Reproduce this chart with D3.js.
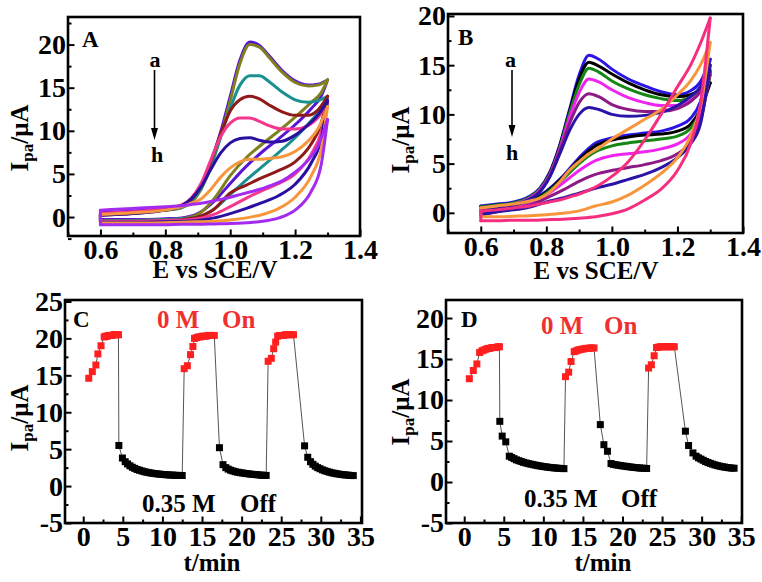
<!DOCTYPE html>
<html><head><meta charset="utf-8">
<script src="https://cdn.jsdelivr.net/npm/d3@7"></script>
<style>
body{margin:0;background:#fff}
svg{display:block}
text{font-family:"Liberation Serif","Times New Roman",serif;font-weight:bold}
</style>
</head><body>
<svg id="chart" width="762" height="582"></svg>
<script>
// ---------------- Panel A data (CV curves a..h) ----------------
const colorsA = ["#5A14D8","#80801E","#1A9090","#8E1A1A","#F5388E","#2A0FA0","#F7963C","#A52AF0"];
const potentialUpA = [0.6,0.7,0.8,0.85,0.88,0.91,0.94,0.97,1.0,1.03,1.06,1.09,1.12,1.16,1.2,1.24,1.27,1.3];
const currentUpA = [
  [0.5,0.7,1.0,1.3,2.0,3.6,6.3,9.8,14.0,18.2,20.3,19.9,18.7,17.0,15.8,15.3,15.4,15.9],
  [0.3,0.5,0.8,1.1,1.7,3.2,5.8,9.3,13.5,17.8,20.0,19.7,18.5,16.8,15.6,15.2,15.3,15.9],
  [0.3,0.5,0.8,1.1,1.8,3.3,5.9,9.2,12.6,15.3,16.4,16.4,15.7,14.5,13.6,13.3,13.5,14.0],
  [0.2,0.4,0.8,1.2,2.0,3.6,6.4,9.6,12.3,13.6,14.0,13.7,13.0,12.2,11.8,11.8,12.4,14.0],
  [0.4,0.6,1.0,1.4,2.2,3.9,6.6,9.3,10.9,11.5,11.5,11.1,10.6,10.2,10.2,10.6,11.5,13.3],
  [0.2,0.4,0.8,1.3,2.1,3.5,5.5,7.4,8.6,9.1,9.2,8.9,8.7,8.8,9.5,10.7,11.8,13.5],
  [0.3,0.5,0.8,1.2,1.6,2.1,3.2,4.6,5.7,6.4,6.7,6.7,6.8,7.0,7.6,8.8,10.2,12.8],
  [0.8,1.0,1.2,1.3,1.45,1.6,1.8,2.05,2.3,2.6,2.9,3.2,3.6,4.2,5.2,6.6,8.2,11.3]
];
const potentialLoA = [0.6,0.7,0.8,0.85,0.9,0.95,1.0,1.05,1.1,1.15,1.2,1.25,1.28,1.3];
const currentLoA = [
  [-0.3,-0.3,-0.2,-0.1,0.4,1.8,3.9,5.9,7.6,9.1,10.7,12.6,14.0,15.9],
  [-0.4,-0.4,-0.3,-0.2,0.3,2.1,4.8,6.9,8.5,10.0,11.6,13.3,14.4,15.9],
  [-0.4,-0.4,-0.3,-0.2,0.0,0.9,2.6,4.3,5.9,7.5,9.2,11.2,12.5,14.0],
  [-0.5,-0.5,-0.4,-0.3,0.0,0.9,2.8,3.7,4.6,5.4,6.4,8.5,10.8,14.0],
  [-0.5,-0.5,-0.4,-0.35,-0.2,0.3,1.2,2.2,3.1,3.9,5.0,7.3,9.8,13.3],
  [-0.6,-0.6,-0.55,-0.5,-0.4,-0.1,0.4,1.0,1.7,2.5,3.8,6.3,9.0,13.5],
  [-0.7,-0.7,-0.65,-0.6,-0.55,-0.5,-0.35,-0.1,0.3,1.0,2.3,4.8,7.8,12.8],
  [-0.9,-0.9,-0.9,-0.85,-0.85,-0.8,-0.75,-0.65,-0.5,-0.1,0.8,3.0,6.0,11.3]
];

// ---------------- Panel B data ----------------
const colorsB = ["#2B14E6","#000000","#138613","#F024F0","#8E1A86","#2A14A8","#F7963C","#F52E7F"];
const potentialUpB = [0.6,0.65,0.7,0.75,0.78,0.81,0.84,0.87,0.9,0.93,0.96,1.0,1.05,1.1,1.15,1.2,1.24,1.27,1.3];
const currentUpB = [
  [0.7,0.9,1.1,1.7,2.5,4.1,6.8,10.4,14.0,16.0,15.6,14.6,13.6,12.9,12.3,12.0,12.4,13.3,15.6],
  [0.6,0.8,1.0,1.6,2.4,4.0,6.7,10.2,13.6,15.3,14.9,14.1,13.2,12.5,12.0,11.8,12.0,12.5,13.2],
  [0.6,0.8,1.0,1.6,2.4,3.9,6.5,10.0,13.0,14.7,14.3,13.4,12.6,12.0,11.6,11.4,11.8,12.6,14.0],
  [0.5,0.7,0.9,1.5,2.3,3.8,6.4,9.6,12.2,13.6,13.3,12.5,11.7,11.2,10.9,10.9,11.4,12.3,14.5],
  [0.4,0.6,0.8,1.4,2.2,3.7,6.2,9.0,11.2,12.1,11.8,11.0,10.5,10.3,10.3,10.6,11.3,12.3,14.3],
  [0.4,0.6,0.8,1.4,2.1,3.6,5.9,8.3,10.0,10.7,10.5,10.0,9.8,9.9,10.2,10.9,11.8,12.8,15.0],
  [0.5,0.7,0.9,1.2,1.5,2.1,3.1,4.3,5.2,6.0,6.6,7.5,8.5,9.5,10.5,12.0,13.4,15.0,17.3],
  [0.2,0.3,0.5,0.7,0.9,1.1,1.3,1.6,1.9,2.3,2.8,3.7,5.2,7.4,10.0,12.8,15.0,17.2,19.8]
];
const potentialLoB = [0.6,0.65,0.7,0.75,0.8,0.85,0.9,0.95,1.0,1.05,1.1,1.15,1.2,1.24,1.27,1.3];
const currentLoB = [
  [0.1,0.4,0.7,1.2,2.2,3.7,5.6,7.1,7.6,7.9,8.1,8.3,8.8,9.6,11.3,15.6],
  [0.0,0.3,0.6,1.1,2.1,3.6,5.4,6.8,7.4,7.7,7.9,8.0,8.3,9.0,10.5,13.2],
  [0.0,0.3,0.6,1.0,2.0,3.4,5.0,6.2,6.8,7.1,7.3,7.5,7.8,8.6,10.2,14.0],
  [-0.1,0.2,0.5,0.9,1.8,3.0,4.3,5.3,5.8,6.0,6.2,6.5,7.0,8.0,9.8,14.5],
  [-0.2,0.1,0.4,0.8,1.5,2.3,3.2,3.9,4.3,4.6,4.9,5.3,6.0,7.2,9.3,14.3],
  [-0.2,0.1,0.3,0.6,1.1,1.5,2.0,2.5,2.9,3.4,3.9,4.6,5.6,7.0,9.0,15.0],
  [-0.4,-0.4,-0.35,-0.3,-0.2,-0.05,0.2,0.7,1.1,1.8,2.8,4.0,5.6,7.8,10.8,17.3],
  [-0.8,-0.8,-0.75,-0.75,-0.7,-0.65,-0.55,-0.4,-0.1,0.4,1.3,2.4,4.3,7.0,11.0,19.8]
];

// ---------------- Panel C data (on / off switching) ----------------
const onTimeC = [0.7,1.15,1.6,1.85,2.25,2.65,2.85,3.05,3.25,3.45,3.65,3.85,4.05,4.25,4.45,
  12.75,13.15,13.55,13.85,14.05,14.3,14.55,14.8,15.05,15.3,15.55,15.8,16.05,16.3,16.55,
  23.35,23.75,24.05,24.3,24.55,24.8,25.05,25.3,25.55,25.8,26.05,26.3,26.55];
const onCurrentC = [14.6,15.5,16.4,17.9,19.0,20.2,20.3,20.3,20.4,20.4,20.4,20.5,20.5,20.5,20.5,
  15.9,16.3,17.8,18.9,20.0,20.1,20.2,20.2,20.3,20.3,20.3,20.4,20.4,20.4,20.4,
  16.9,17.3,18.6,19.5,20.3,20.4,20.4,20.4,20.5,20.5,20.5,20.5,20.5];
const offTimeC = [4.5,4.95,5.3,5.6,5.9,6.2,6.5,6.8,7.1,7.4,7.7,8.0,8.3,8.6,8.9,9.2,9.5,9.8,10.1,10.4,10.7,11.0,11.3,11.6,11.9,12.2,12.5,
  17.2,17.65,18.0,18.3,18.6,18.9,19.2,19.5,19.8,20.1,20.4,20.7,21.0,21.3,21.6,21.9,22.2,22.5,22.8,23.1,
  27.95,28.35,28.7,29.0,29.3,29.6,29.9,30.2,30.5,30.8,31.1,31.4,31.7,32.0,32.3,32.6,32.9,33.2,33.5,33.8,34.1];
const offCurrentC = [5.5,3.8,3.3,3.0,2.75,2.55,2.4,2.25,2.15,2.05,1.95,1.88,1.82,1.76,1.71,1.67,1.63,1.6,1.57,1.54,1.52,1.5,1.48,1.46,1.45,1.44,1.43,
  5.2,2.9,2.5,2.3,2.15,2.05,1.95,1.88,1.82,1.77,1.72,1.68,1.64,1.6,1.57,1.54,1.51,1.48,1.46,1.44,
  5.45,3.9,3.3,2.95,2.7,2.5,2.35,2.2,2.08,1.98,1.88,1.8,1.73,1.67,1.62,1.57,1.53,1.5,1.47,1.44,1.42];

// ---------------- Panel D data ----------------
const onTimeD = [0.65,1.15,1.6,1.95,2.25,2.5,2.75,3.0,3.25,3.5,3.75,4.0,4.25,4.45,
  12.8,13.2,13.5,13.9,14.15,14.4,14.65,14.9,15.15,15.4,15.65,15.9,16.15,16.4,
  23.3,23.65,24.0,24.3,24.55,24.8,25.05,25.3,25.55,25.8,26.05,26.3,26.55];
const onCurrentD = [12.6,13.6,14.4,15.8,16.0,16.1,16.2,16.3,16.3,16.4,16.4,16.4,16.5,16.5,
  12.85,13.4,14.7,15.9,16.0,16.1,16.15,16.2,16.25,16.3,16.3,16.35,16.35,16.35,
  13.9,14.3,15.4,16.4,16.45,16.5,16.5,16.5,16.5,16.5,16.5,16.5,16.5];
const offTimeD = [4.5,4.8,5.25,5.7,6.0,6.3,6.6,6.9,7.2,7.5,7.8,8.1,8.4,8.7,9.0,9.3,9.6,9.9,10.2,10.5,10.8,11.1,11.4,11.7,12.0,12.3,12.6,
  17.2,17.65,18.1,18.55,18.85,19.15,19.45,19.75,20.05,20.35,20.65,20.95,21.25,21.55,21.85,22.15,22.45,22.75,23.05,
  27.95,28.35,28.9,29.3,29.6,29.9,30.2,30.5,30.8,31.1,31.4,31.7,32.0,32.3,32.6,32.9,33.2,33.5,33.8,34.1];
const offCurrentD = [7.4,5.6,4.9,3.15,3.0,2.85,2.7,2.6,2.5,2.4,2.32,2.25,2.18,2.12,2.06,2.0,1.95,1.9,1.86,1.82,1.78,1.75,1.72,1.69,1.67,1.65,1.63,
  7.0,4.55,3.75,2.25,2.15,2.1,2.05,2.0,1.96,1.92,1.88,1.84,1.8,1.77,1.74,1.71,1.69,1.67,1.65,
  6.2,4.45,3.55,3.15,2.95,2.8,2.65,2.5,2.38,2.27,2.17,2.08,2.0,1.93,1.87,1.82,1.77,1.73,1.7,1.68];

// ---------------- Tick values ----------------
const xTicksCV = [0.6,0.8,1.0,1.2,1.4];
const xMinorCV = [0.5,0.7,0.9,1.1,1.3];
const yTicksA = [0,5,10,15,20];
const yMinorA = [-2.5,2.5,7.5,12.5,17.5,22.5];
const yTicksB = [0,5,10,15,20];
const yMinorB = [2.5,7.5,12.5,17.5];
const xTicksT = [0,5,10,15,20,25,30,35];
const xMinorT = [2.5,7.5,12.5,17.5,22.5,27.5,32.5];
const yTicksC = [-5,0,5,10,15,20,25];
const yMinorC = [-2.5,2.5,7.5,12.5,17.5,22.5];
const yTicksD = [-5,0,5,10,15,20];
const yMinorD = [-2.5,2.5,7.5,12.5,17.5];

// ---------------- Drawing ----------------
const svg = d3.select("#chart");
const TICKFONT = 28;

function makePanel(p) {
  const x = d3.scaleLinear().domain(p.xd).range([p.l, p.r]);
  const y = d3.scaleLinear().domain(p.yd).range([p.b, p.t]);
  const g = svg.append("g");
  const fmtX = p.fmtX || (d => d);
  g.append("g").attr("transform", `translate(0,${p.b})`)
    .call(d3.axisBottom(x).tickValues(p.xMinor).tickSize(-3.5).tickFormat(""))
    .call(s => s.select(".domain").remove());
  g.append("g").attr("transform", `translate(${p.l},0)`)
    .call(d3.axisLeft(y).tickValues(p.yMinor).tickSize(-3.5).tickFormat(""))
    .call(s => s.select(".domain").remove());
  const xa = g.append("g").attr("transform", `translate(0,${p.b})`)
    .call(d3.axisBottom(x).tickValues(p.xTicks).tickSize(-6.5).tickPadding(3).tickFormat(fmtX));
  xa.select(".domain").remove();
  const ya = g.append("g").attr("transform", `translate(${p.l},0)`)
    .call(d3.axisLeft(y).tickValues(p.yTicks).tickSize(-6.5).tickPadding(2).tickFormat(d => d));
  ya.select(".domain").remove();
  g.selectAll(".tick line").attr("stroke", "#000").attr("stroke-width", 2);
  g.selectAll(".tick text").attr("font-size", TICKFONT).attr("fill", "#000")
    .attr("font-family", "'Liberation Serif','Times New Roman',serif").attr("font-weight", "bold");
  g.append("rect").attr("x", p.l).attr("y", p.t).attr("width", p.r - p.l).attr("height", p.b - p.t)
    .attr("fill", "none").attr("stroke", "#000").attr("stroke-width", 2.6);
  g.append("text").attr("x", p.xtx).attr("y", p.xty).attr("text-anchor", "middle")
    .attr("font-size", 25).text(p.xTitle);
  const yt = g.append("text").attr("transform", `translate(${p.ytx},${p.yty}) rotate(-90)`)
    .attr("text-anchor", "middle").attr("font-size", 25);
  yt.append("tspan").text("I");
  yt.append("tspan").attr("font-size", 17).attr("dy", 5).text("pa");
  yt.append("tspan").attr("dy", -5).text("/\u03BCA");
  return {g, x, y};
}

function drawCV(P, eUp, ups, eLo, los, colors) {
  const line = d3.line().x(d => P.x(d[0])).y(d => P.y(d[1])).curve(d3.curveMonotoneX);
  const cg = P.g.insert("g", "rect");
  ups.forEach((u, i) => {
    const up = eUp.map((e, j) => [e, u[j]]);
    const lo = eLo.map((e, j) => [e, los[i][j]]);
    const s = {stroke: colors[i], "stroke-width": 3, fill: "none", "stroke-linecap": "round", "stroke-linejoin": "round"};
    const add = d => { const p = cg.append("path").attr("d", d); Object.entries(s).forEach(([k, v]) => p.attr(k, v)); };
    add(line(lo));
    add(line(up));
    add(d3.line().x(d => P.x(d[0])).y(d => P.y(d[1]))([up[0], lo[0]]));
  });
}

function drawSwitch(P, onT, onI, offT, offI) {
  const on = onT.map((t, i) => ({t, v: onI[i], on: true}));
  const off = offT.map((t, i) => ({t, v: offI[i], on: false}));
  const all = on.concat(off).sort((a, b) => a.t - b.t);
  const sg = P.g.insert("g", "rect");
  sg.append("path").attr("d", d3.line().x(d => P.x(d.t)).y(d => P.y(d.v))(all))
    .attr("fill", "none").attr("stroke", "#555").attr("stroke-width", 1);
  const sz = 7;
  sg.selectAll("rect.pt").data(all).enter().append("rect").attr("class", "pt")
    .attr("x", d => P.x(d.t) - sz / 2).attr("y", d => P.y(d.v) - sz / 2)
    .attr("width", sz).attr("height", sz)
    .attr("fill", d => d.on ? "#FF1F1F" : "#000");
}

function label(txt, x, y, size, color, anchor) {
  svg.append("text").attr("x", x).attr("y", y).attr("font-size", size)
    .attr("fill", color || "#000").attr("text-anchor", anchor || "start").text(txt);
}
function arrow(x, y1, y2) {
  svg.append("line").attr("x1", x).attr("x2", x).attr("y1", y1).attr("y2", y2 - 10)
    .attr("stroke", "#000").attr("stroke-width", 1.6);
  svg.append("path").attr("d", `M${x - 3.5},${y2 - 12} L${x + 3.5},${y2 - 12} L${x},${y2} Z`).attr("fill", "#000");
}

const fmt1 = d3.format(".1f");
const PA = makePanel({l:68, r:360, t:17, b:236, xd:[0.5,1.4], yd:[-2.2,23.2],
  xTicks:xTicksCV, xMinor:xMinorCV, yTicks:yTicksA, yMinor:yMinorA, fmtX:fmt1,
  xTitle:"E vs SCE/V", xtx:215, xty:278, ytx:28, yty:138});
const PB = makePanel({l:448, r:743, t:14, b:233, xd:[0.5,1.4], yd:[-2.05,20.2],
  xTicks:xTicksCV, xMinor:xMinorCV, yTicks:yTicksB, yMinor:yMinorB, fmtX:fmt1,
  xTitle:"E vs SCE/V", xtx:596, xty:279, ytx:409, yty:140});
const PC = makePanel({l:65, r:362, t:300, b:523, xd:[-2.3,35.2], yd:[-5,25.2],
  xTicks:xTicksT, xMinor:xMinorT, yTicks:yTicksC, yMinor:yMinorC,
  xTitle:"t/min", xtx:212, xty:571, ytx:28, yty:418});
const PD = makePanel({l:446, r:742, t:300, b:523, xd:[-2.3,35.1], yd:[-5,22.2],
  xTicks:xTicksT, xMinor:xMinorT, yTicks:yTicksD, yMinor:yMinorD,
  xTitle:"t/min", xtx:603, xty:571, ytx:409, yty:412});

drawCV(PA, potentialUpA, currentUpA, potentialLoA, currentLoA, colorsA);
drawCV(PB, potentialUpB, currentUpB, potentialLoB, currentLoB, colorsB);
drawSwitch(PC, onTimeC, onCurrentC, offTimeC, offCurrentC);
drawSwitch(PD, onTimeD, onCurrentD, offTimeD, offCurrentD);

label("A", 82, 47, 23);
label("a", 155, 67, 22, "#000", "middle");
arrow(154.5, 70, 140);
label("h", 157, 162, 22, "#000", "middle");
label("B", 458, 45, 23);
label("a", 510.5, 67, 22, "#000", "middle");
arrow(512, 70, 137);
label("h", 512, 160, 22, "#000", "middle");
label("C", 73, 327, 23);
label("0 M", 157, 328, 25, "#F03030");
label("On", 222, 328, 25, "#F03030");
label("0.35 M", 142, 512, 25);
label("Off", 240, 512, 25);
label("D", 461, 327, 23);
label("0 M", 541, 334, 25, "#F03030");
label("On", 604, 334, 25, "#F03030");
label("0.35 M", 524, 507, 25);
label("Off", 621, 507, 25);
</script>
</body></html>
